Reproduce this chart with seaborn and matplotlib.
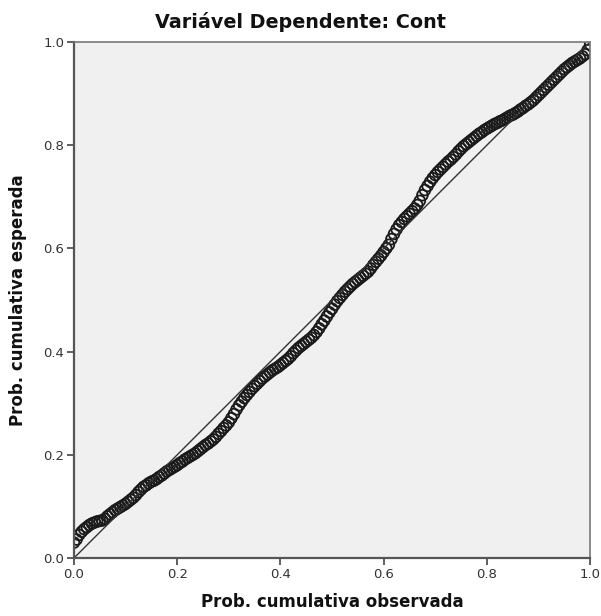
import numpy as np
import pandas as pd
import matplotlib
matplotlib.use("Agg")
import matplotlib.pyplot as plt
import seaborn as sns

# Observed cumulative probability (x) and expected cumulative probability (y),
# read off the SPSS P-P plot
obs_prob = [
    0.000, 0.005, 0.010, 0.015, 0.020, 0.025, 0.030, 0.035, 0.040, 0.045,
    0.050, 0.055, 0.060, 0.065, 0.070, 0.075, 0.080, 0.085, 0.090, 0.095,
    0.100, 0.105, 0.110, 0.115, 0.120, 0.125, 0.130, 0.135, 0.140, 0.145,
    0.150, 0.155, 0.160, 0.165, 0.170, 0.175, 0.180, 0.185, 0.190, 0.195,
    0.200, 0.205, 0.210, 0.215, 0.220, 0.225, 0.230, 0.235, 0.240, 0.245,
    0.250, 0.255, 0.260, 0.265, 0.270, 0.275, 0.280, 0.285, 0.290, 0.295,
    0.300, 0.305, 0.310, 0.315, 0.320, 0.325, 0.330, 0.335, 0.340, 0.345,
    0.350, 0.355, 0.360, 0.365, 0.370, 0.375, 0.380, 0.385, 0.390, 0.395,
    0.400, 0.405, 0.410, 0.415, 0.420, 0.425, 0.430, 0.435, 0.440, 0.445,
    0.450, 0.455, 0.460, 0.465, 0.470, 0.475, 0.480, 0.485, 0.490, 0.495,
    0.500, 0.505, 0.510, 0.515, 0.520, 0.525, 0.530, 0.535, 0.540, 0.545,
    0.550, 0.555, 0.560, 0.565, 0.570, 0.575, 0.580, 0.585, 0.590, 0.595,
    0.600, 0.605, 0.610, 0.615, 0.620, 0.625, 0.630, 0.635, 0.640, 0.645,
    0.650, 0.655, 0.660, 0.665, 0.670, 0.675, 0.680, 0.685, 0.690, 0.695,
    0.700, 0.705, 0.710, 0.715, 0.720, 0.725, 0.730, 0.735, 0.740, 0.745,
    0.750, 0.755, 0.760, 0.765, 0.770, 0.775, 0.780, 0.785, 0.790, 0.795,
    0.800, 0.805, 0.810, 0.815, 0.820, 0.825, 0.830, 0.835, 0.840, 0.845,
    0.850, 0.855, 0.860, 0.865, 0.870, 0.875, 0.880, 0.885, 0.890, 0.895,
    0.900, 0.905, 0.910, 0.915, 0.920, 0.925, 0.930, 0.935, 0.940, 0.945,
    0.950, 0.955, 0.960, 0.965, 0.970, 0.975, 0.980, 0.985, 0.990, 0.995,
    1.000,
]
exp_prob = [
    0.030, 0.036, 0.045, 0.051, 0.056, 0.060, 0.064, 0.067, 0.069, 0.071,
    0.072, 0.073, 0.076, 0.081, 0.085, 0.089, 0.093, 0.096, 0.099, 0.102,
    0.105, 0.109, 0.113, 0.117, 0.122, 0.128, 0.133, 0.138, 0.141, 0.145,
    0.148, 0.150, 0.153, 0.157, 0.160, 0.164, 0.168, 0.171, 0.174, 0.177,
    0.180, 0.184, 0.187, 0.191, 0.194, 0.197, 0.200, 0.203, 0.207, 0.211,
    0.215, 0.219, 0.222, 0.226, 0.230, 0.235, 0.241, 0.246, 0.252, 0.257,
    0.263, 0.271, 0.279, 0.288, 0.296, 0.303, 0.310, 0.316, 0.322, 0.328,
    0.333, 0.338, 0.343, 0.348, 0.352, 0.356, 0.360, 0.364, 0.367, 0.370,
    0.374, 0.378, 0.382, 0.386, 0.391, 0.397, 0.402, 0.407, 0.411, 0.415,
    0.419, 0.423, 0.427, 0.432, 0.438, 0.445, 0.453, 0.460, 0.468, 0.476,
    0.483, 0.491, 0.498, 0.504, 0.510, 0.516, 0.521, 0.526, 0.531, 0.535,
    0.539, 0.543, 0.547, 0.551, 0.555, 0.561, 0.568, 0.574, 0.580, 0.586,
    0.593, 0.600, 0.607, 0.618, 0.628, 0.637, 0.645, 0.651, 0.657, 0.662,
    0.667, 0.672, 0.677, 0.684, 0.692, 0.703, 0.713, 0.721, 0.729, 0.736,
    0.742, 0.748, 0.753, 0.758, 0.763, 0.768, 0.772, 0.777, 0.782, 0.788,
    0.793, 0.798, 0.802, 0.806, 0.810, 0.814, 0.818, 0.822, 0.825, 0.829,
    0.832, 0.835, 0.838, 0.841, 0.843, 0.846, 0.848, 0.851, 0.854, 0.857,
    0.859, 0.862, 0.865, 0.869, 0.872, 0.876, 0.879, 0.883, 0.887, 0.892,
    0.897, 0.902, 0.907, 0.912, 0.917, 0.922, 0.927, 0.932, 0.937, 0.942,
    0.947, 0.951, 0.955, 0.959, 0.962, 0.965, 0.968, 0.972, 0.976, 0.984,
    0.995,
]
ref_x = [0.0, 1.0]
ref_y = [0.0, 1.0]
ticks = [0.0, 0.2, 0.4, 0.6, 0.8, 1.0]

sns.set_theme(style="ticks")
plt.rcParams['font.family'] = ['DejaVu Sans']

df = pd.DataFrame({'obs': obs_prob, 'exp': exp_prob})
ref = pd.DataFrame({'x': ref_x, 'y': ref_y})

fig = plt.figure(figsize=(6.01, 6.16), dpi=100)
ax = fig.add_axes([0.123, 0.094, 0.859, 0.838])
ax.set_facecolor('#f0f0f0')

sns.lineplot(data=ref, x='x', y='y', ax=ax, color='#333333', linewidth=1.0)
sns.scatterplot(data=df, x='obs', y='exp', ax=ax, s=60, marker='o',
                facecolors='none', edgecolor='#1a1a1a', linewidth=1.3)

ax.set_xlim(0, 1)
ax.set_ylim(0, 1)
ax.set_xticks(ticks)
ax.set_yticks(ticks)
ax.set_xticklabels([f"{t:.1f}" for t in ticks])
ax.set_yticklabels([f"{t:.1f}" for t in ticks])
ax.tick_params(axis='both', direction='out', length=5, width=1.2,
               color='#444444', labelcolor='#333333', labelsize=9.5, pad=2)
ax.tick_params(top=False, right=False)

for side in ['left', 'bottom']:
    ax.spines[side].set_color('#555555')
    ax.spines[side].set_linewidth(1.6)
for side in ['top', 'right']:
    ax.spines[side].set_visible(True)
    ax.spines[side].set_color('#777777')
    ax.spines[side].set_linewidth(1.2)

# title is centred on the figure, not the axes
fig.text(0.5, 0.965, 'Variável Dependente: Cont', fontsize=13.8,
         fontweight='bold', color='#111111', ha='center', va='center')
ax.set_xlabel('Prob. cumulativa observada', fontsize=12, fontweight='bold',
              color='#111111', labelpad=9)
ax.set_ylabel('Prob. cumulativa esperada', fontsize=12, fontweight='bold',
              color='#111111', labelpad=12)

fig.savefig('out.png', dpi=100)
